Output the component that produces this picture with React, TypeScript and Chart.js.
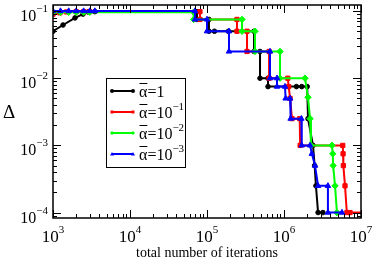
import React, { useEffect, useRef } from "react";
import { Chart, registerables } from "chart.js";

Chart.register(...registerables);

// ---- axis ranges & tick labels ----
const xMin = 1e3;
const xMax = 1e7;
const yMin = 8.3e-5;
const yMax = 0.123;
const xDecades = [3, 4, 5, 6, 7];
const yDecades = [-4, -3, -2, -1];
const xTitle = "total number of iterations";
const yTitle = "Δ";

// ---- legend ----
const legendBase = ["1", "10", "10", "10"];
const legendExp = ["", "−1", "−2", "−3"];
const seriesColors = ["#000000", "#ff0000", "#00ff00", "#0000ff"];
const seriesMarkers = ["circle", "rect", "rectRot", "triangle"];

// ---- series: ᾱ = 1 ----
const blackIter = [1000, 1350, 1930, 2450, 2850, 3500, 74000, 74000, 106000, 106000, 125000, 190000, 408000, 408000, 488000, 488000, 620000, 620000, 1.45e6, 1.7e6, 2.0e6, 2.05e6, 2.38e6, 2.5e6, 2.6e6, 2.77e6, 3.2e6];
const blackDelta = [0.05, 0.062, 0.079, 0.09, 0.097, 0.098, 0.098, 0.075, 0.075, 0.05, 0.05, 0.05, 0.05, 0.025, 0.025, 0.01, 0.01, 0.0075, 0.0075, 0.0075, 0.0075, 0.0025, 0.001, 0.0005, 0.00025, 0.0001, 0.0001];

// ---- series: ᾱ = 10^-1 ----
const redIter = [1000, 1230, 1500, 2000, 2500, 3000, 81000, 81000, 245000, 245000, 331000, 331000, 640000, 640000, 1.12e6, 1.15e6, 1.2e6, 1.27e6, 1.6e6, 1.62e6, 5.8e6, 5.85e6, 5.9e6, 6.2e6, 6.55e6, 7.2e6, 1.2e7];
const redDelta = [0.09, 0.094, 0.097, 0.098, 0.098, 0.098, 0.098, 0.075, 0.075, 0.05, 0.05, 0.025, 0.025, 0.01, 0.01, 0.0075, 0.005, 0.0025, 0.0025, 0.001, 0.001, 0.00075, 0.0005, 0.00025, 0.0001, 0.0001, 0.0001];

// ---- series: ᾱ = 10^-2 ----
const greenIter = [1000, 1250, 1600, 2000, 2500, 3000, 67000, 67000, 285000, 285000, 420000, 420000, 888000, 888000, 1.875e6, 2.05e6, 2.18e6, 2.24e6, 4.2e6, 4.3e6, 4.35e6, 4.6e6, 4.87e6];
const greenDelta = [0.096, 0.096, 0.096, 0.096, 0.096, 0.096, 0.096, 0.075, 0.075, 0.05, 0.05, 0.025, 0.025, 0.01, 0.01, 0.0052, 0.0025, 0.001, 0.001, 0.00075, 0.0005, 0.00025, 0.0001];

// ---- series: ᾱ = 10^-3 ----
const blueIter = [1000, 1250, 1600, 2000, 2500, 3000, 3500, 69800, 69800, 100000, 100000, 193000, 193000, 658000, 658000, 811000, 811000, 1.03e6, 1.05e6, 1.2e6, 1.22e6, 1.68e6, 1.7e6, 2.18e6, 2.3e6, 2.53e6, 2.77e6, 3.72e6, 3.72e6, 5.66e6];
const blueDelta = [0.1, 0.1, 0.1, 0.1, 0.1, 0.1, 0.1, 0.1, 0.075, 0.075, 0.05, 0.05, 0.025, 0.025, 0.01, 0.01, 0.0075, 0.0075, 0.005, 0.005, 0.0025, 0.0025, 0.001, 0.001, 0.00075, 0.0005, 0.00025, 0.00025, 0.0001, 0.0001];

const seriesIter = [blackIter, redIter, greenIter, blueIter];
const seriesDelta = [blackDelta, redDelta, greenDelta, blueDelta];
const seriesRadius = [2.3, 3, 3.2, 3.2];

const FONT = '"Liberation Serif", "Times New Roman", serif';

function drawPow(ctx: CanvasRenderingContext2D, base: string, exp: string, x: number, y: number, align: "center" | "right", baseSize: number, supSize: number, rise: number) {
  ctx.font = `${baseSize}px ${FONT}`;
  const wb = ctx.measureText(base).width;
  ctx.font = `${supSize}px ${FONT}`;
  const ws = ctx.measureText(exp).width;
  const total = wb + ws;
  const sx = align === "center" ? x - total / 2 : x - total;
  ctx.textAlign = "left";
  ctx.textBaseline = "alphabetic";
  ctx.font = `${baseSize}px ${FONT}`;
  ctx.fillText(base, sx, y);
  ctx.font = `${supSize}px ${FONT}`;
  ctx.fillText(exp, sx + wb, y - rise);
}

function drawMarker(ctx: CanvasRenderingContext2D, style: string, x: number, y: number, r: number) {
  ctx.beginPath();
  if (style === "circle") {
    ctx.arc(x, y, r, 0, Math.PI * 2);
  } else if (style === "rect") {
    ctx.rect(x - r * 0.75, y - r * 0.75, r * 1.5, r * 1.5);
  } else if (style === "rectRot") {
    ctx.moveTo(x, y - r);
    ctx.lineTo(x + r, y);
    ctx.lineTo(x, y + r);
    ctx.lineTo(x - r, y);
    ctx.closePath();
  } else {
    ctx.moveTo(x, y - r);
    ctx.lineTo(x + r, y + r * 0.7);
    ctx.lineTo(x - r, y + r * 0.7);
    ctx.closePath();
  }
  ctx.fill();
}

const framePlugin = {
  id: "graceFrame",
  afterDatasetsDraw(chart: any) {
    const ctx: CanvasRenderingContext2D = chart.ctx;
    const a = chart.chartArea;
    const xs = chart.scales.x;
    const ys = chart.scales.y;
    ctx.save();
    ctx.strokeStyle = "#000";
    ctx.fillStyle = "#000";
    ctx.lineWidth = 1.5;
    ctx.strokeRect(a.left, a.top, a.right - a.left, a.bottom - a.top);
    ctx.lineWidth = 1;
    ctx.beginPath();
    // x ticks
    for (let d = 2; d <= 7; d++) {
      for (let m = 1; m <= 9; m++) {
        const v = m * Math.pow(10, d);
        if (v < xMin * 0.999 || v > xMax * 1.001) continue;
        const len = m === 1 ? 8 : 4;
        const px = Math.round(xs.getPixelForValue(v)) + 0.5;
        ctx.moveTo(px, a.bottom);
        ctx.lineTo(px, a.bottom - len);
        ctx.moveTo(px, a.top);
        ctx.lineTo(px, a.top + len);
      }
    }
    // y ticks
    for (let d = -5; d <= -1; d++) {
      for (let m = 1; m <= 9; m++) {
        const v = m * Math.pow(10, d);
        if (v < yMin || v > yMax) continue;
        const len = m === 1 ? 8 : 4;
        const py = Math.round(ys.getPixelForValue(v)) + 0.5;
        ctx.moveTo(a.left, py);
        ctx.lineTo(a.left + len, py);
        ctx.moveTo(a.right, py);
        ctx.lineTo(a.right - len, py);
      }
    }
    ctx.stroke();

    // tick labels
    for (const d of xDecades) {
      const px = xs.getPixelForValue(Math.pow(10, d));
      drawPow(ctx, "10", String(d), px, a.bottom + 24, "center", 17, 11, 9);
    }
    for (const d of yDecades) {
      const py = ys.getPixelForValue(Math.pow(10, d));
      drawPow(ctx, "10", "−" + String(-d), a.left - 5, py + 10, "right", 16, 11, 9);
    }

    // axis titles
    ctx.font = `14px ${FONT}`;
    ctx.textAlign = "center";
    ctx.textBaseline = "alphabetic";
    ctx.fillText(xTitle, (a.left + a.right) / 2, 257);
    ctx.font = `19px ${FONT}`;
    ctx.textBaseline = "middle";
    ctx.fillText(yTitle, 9, 113);
    ctx.restore();
  },
  afterDraw(chart: any) {
    const ctx: CanvasRenderingContext2D = chart.ctx;
    ctx.save();
    const bx = 106.5, by = 78.5, bw = 79, bh = 89;
    ctx.fillStyle = "#fff";
    ctx.fillRect(bx, by, bw, bh);
    ctx.strokeStyle = "#000";
    ctx.lineWidth = 1;
    ctx.strokeRect(bx, by, bw, bh);
    for (let i = 0; i < 4; i++) {
      const row = 91 + i * 21;
      const col = seriesColors[i];
      ctx.strokeStyle = col;
      ctx.fillStyle = col;
      ctx.lineWidth = 2;
      ctx.beginPath();
      ctx.moveTo(112, row);
      ctx.lineTo(133, row);
      ctx.stroke();
      drawMarker(ctx, seriesMarkers[i], 112, row, 2);
      drawMarker(ctx, seriesMarkers[i], 133, row, 2);
      // text
      ctx.fillStyle = "#000";
      ctx.textAlign = "left";
      ctx.textBaseline = "alphabetic";
      ctx.font = `16px ${FONT}`;
      const tx = 139;
      const ty = row + 6;
      ctx.fillText("α", tx, ty);
      const wa = ctx.measureText("α").width;
      ctx.strokeStyle = "#000";
      ctx.lineWidth = 1;
      ctx.beginPath();
      ctx.moveTo(tx + 0.5, row - 7.5);
      ctx.lineTo(tx + wa, row - 7.5);
      ctx.stroke();
      const rest = "=" + legendBase[i];
      ctx.fillText(rest, tx + wa, ty);
      const wr = ctx.measureText(rest).width;
      if (legendExp[i]) {
        ctx.font = `11px ${FONT}`;
        ctx.fillText(legendExp[i], tx + wa + wr, ty - 8);
      }
    }
    ctx.restore();
  },
};

export default function App() {
  const ref = useRef<HTMLCanvasElement>(null);
  useEffect(() => {
    const datasets = seriesIter.map((xsArr, i) => ({
      label: "s" + i,
      data: xsArr.map((x, j) => ({ x, y: seriesDelta[i][j] })),
      borderColor: seriesColors[i],
      backgroundColor: seriesColors[i],
      pointBackgroundColor: seriesColors[i],
      pointBorderColor: seriesColors[i],
      pointStyle: seriesMarkers[i],
      pointRadius: seriesRadius[i],
      pointBorderWidth: 1,
      borderWidth: 2,
      tension: 0,
      fill: false,
      order: 3 - i,
    }));
    const chart = new Chart(ref.current as HTMLCanvasElement, {
      type: "line",
      data: { datasets: datasets as any },
      options: {
        responsive: false,
        devicePixelRatio: 1,
        animation: false,
        layout: { padding: { left: 53, right: 13, top: 5, bottom: 42 } },
        plugins: { legend: { display: false }, tooltip: { enabled: false } },
        scales: {
          x: { type: "logarithmic", min: xMin, max: xMax, display: false },
          y: { type: "logarithmic", min: yMin, max: yMax, display: false },
        },
      },
      plugins: [framePlugin],
    });
    return () => chart.destroy();
  }, []);
  return (
    <div style={{ position: "absolute", left: 0, top: 0, width: 374, height: 260, background: "#fff" }}>
      <canvas ref={ref} width={374} height={260} style={{ display: "block", width: 374, height: 260 }} />
    </div>
  );
}
